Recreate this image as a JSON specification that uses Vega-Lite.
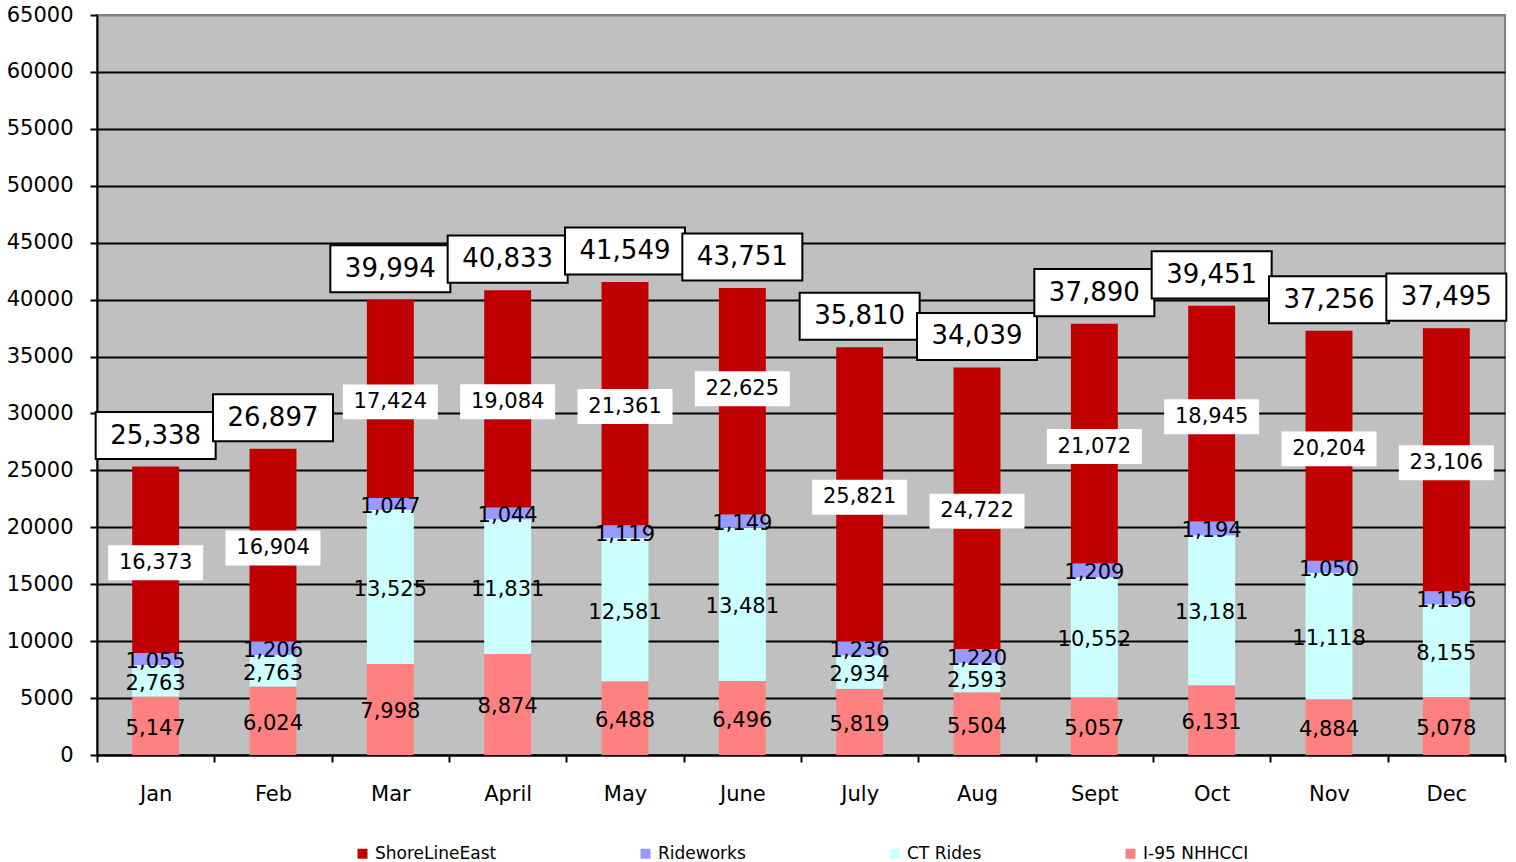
{
  "$schema": "https://vega.github.io/schema/vega-lite/v6.json",
  "width": 1408,
  "height": 740,
  "autosize": "none",
  "padding": {"left": 97, "top": 15, "right": 11, "bottom": 107},
  "background": "white",
  "config": {
    "view": {"fill": "#C0C0C0", "stroke": "#808080", "strokeWidth": 2},
    "font": "DejaVu Sans"
  },
  "data": {
    "values": [
      {"m": "Jan", "s": "I-95 NHHCCI", "v": 5147, "h": 5147},
      {"m": "Jan", "s": "CT Rides", "v": 2763, "h": 2763},
      {"m": "Jan", "s": "Rideworks", "v": 1055, "h": 1055},
      {"m": "Jan", "s": "ShoreLineEast", "v": 16373, "h": 16373},
      {"m": "Feb", "s": "I-95 NHHCCI", "v": 6024, "h": 6024},
      {"m": "Feb", "s": "CT Rides", "v": 2763, "h": 2763},
      {"m": "Feb", "s": "Rideworks", "v": 1206, "h": 1206},
      {"m": "Feb", "s": "ShoreLineEast", "v": 16904, "h": 16904},
      {"m": "Mar", "s": "I-95 NHHCCI", "v": 7998, "h": 7998},
      {"m": "Mar", "s": "CT Rides", "v": 13525, "h": 13525},
      {"m": "Mar", "s": "Rideworks", "v": 1047, "h": 1047},
      {"m": "Mar", "s": "ShoreLineEast", "v": 17424, "h": 17424},
      {"m": "April", "s": "I-95 NHHCCI", "v": 8874, "h": 8874},
      {"m": "April", "s": "CT Rides", "v": 11831, "h": 11831},
      {"m": "April", "s": "Rideworks", "v": 1044, "h": 1044},
      {"m": "April", "s": "ShoreLineEast", "v": 19084, "h": 19084},
      {"m": "May", "s": "I-95 NHHCCI", "v": 6488, "h": 6488},
      {"m": "May", "s": "CT Rides", "v": 12581, "h": 12581},
      {"m": "May", "s": "Rideworks", "v": 1119, "h": 1119},
      {"m": "May", "s": "ShoreLineEast", "v": 21361, "h": 21361},
      {"m": "June", "s": "I-95 NHHCCI", "v": 6496, "h": 6496},
      {"m": "June", "s": "CT Rides", "v": 13481, "h": 13481},
      {"m": "June", "s": "Rideworks", "v": 1149, "h": 1149},
      {"m": "June", "s": "ShoreLineEast", "v": 22625, "h": 19900},
      {"m": "July", "s": "I-95 NHHCCI", "v": 5819, "h": 5819},
      {"m": "July", "s": "CT Rides", "v": 2934, "h": 2934},
      {"m": "July", "s": "Rideworks", "v": 1236, "h": 1236},
      {"m": "July", "s": "ShoreLineEast", "v": 25821, "h": 25821},
      {"m": "Aug", "s": "I-95 NHHCCI", "v": 5504, "h": 5504},
      {"m": "Aug", "s": "CT Rides", "v": 2593, "h": 2593},
      {"m": "Aug", "s": "Rideworks", "v": 1220, "h": 1220},
      {"m": "Aug", "s": "ShoreLineEast", "v": 24722, "h": 24722},
      {"m": "Sept", "s": "I-95 NHHCCI", "v": 5057, "h": 5057},
      {"m": "Sept", "s": "CT Rides", "v": 10552, "h": 10552},
      {"m": "Sept", "s": "Rideworks", "v": 1209, "h": 1209},
      {"m": "Sept", "s": "ShoreLineEast", "v": 21072, "h": 21072},
      {"m": "Oct", "s": "I-95 NHHCCI", "v": 6131, "h": 6131},
      {"m": "Oct", "s": "CT Rides", "v": 13181, "h": 13181},
      {"m": "Oct", "s": "Rideworks", "v": 1194, "h": 1194},
      {"m": "Oct", "s": "ShoreLineEast", "v": 18945, "h": 18945},
      {"m": "Nov", "s": "I-95 NHHCCI", "v": 4884, "h": 4884},
      {"m": "Nov", "s": "CT Rides", "v": 11118, "h": 11118},
      {"m": "Nov", "s": "Rideworks", "v": 1050, "h": 1050},
      {"m": "Nov", "s": "ShoreLineEast", "v": 20204, "h": 20204},
      {"m": "Dec", "s": "I-95 NHHCCI", "v": 5078, "h": 5078},
      {"m": "Dec", "s": "CT Rides", "v": 8155, "h": 8155},
      {"m": "Dec", "s": "Rideworks", "v": 1156, "h": 1156},
      {"m": "Dec", "s": "ShoreLineEast", "v": 23106, "h": 23106}
    ]
  },
  "transform": [
    {"calculate": "indexof(['I-95 NHHCCI','CT Rides','Rideworks','ShoreLineEast'], datum.s)", "as": "ord"},
    {"stack": "v", "groupby": ["m"], "sort": [{"field": "ord", "order": "ascending"}], "as": ["v0", "v1"]},
    {"stack": "h", "groupby": ["m"], "sort": [{"field": "ord", "order": "ascending"}], "as": ["h0", "h1"]},
    {"calculate": "(datum.v0 + datum.v1) / 2", "as": "vmid"}
  ],
  "encoding": {
    "x": {
      "field": "m",
      "type": "nominal",
      "sort": ["Jan", "Feb", "Mar", "April", "May", "June", "July", "Aug", "Sept", "Oct", "Nov", "Dec"],
      "scale": {"paddingInner": 0, "paddingOuter": 0},
      "axis": {
        "title": null,
        "labelAngle": 0,
        "labelFont": "DejaVu Sans",
        "labelFontSize": 21,
        "labelColor": "black",
        "labelPadding": 21,
        "domainColor": "black",
        "domainWidth": 2,
        "tickColor": "black",
        "tickWidth": 2,
        "tickSize": 7,
        "tickBand": "extent",
        "grid": false
      }
    }
  },
  "layer": [
    {
      "mark": {"type": "bar", "width": {"band": 0.4}},
      "encoding": {
        "y": {
          "field": "h0",
          "type": "quantitative",
          "scale": {"domain": [0, 65000], "nice": false, "zero": true},
          "axis": {
            "title": null,
            "values": [0, 5000, 10000, 15000, 20000, 25000, 30000, 35000, 40000, 45000, 50000, 55000, 60000, 65000],
            "format": "d",
            "labelFont": "DejaVu Sans",
            "labelFontSize": 21,
            "labelColor": "black",
            "labelPadding": 17,
            "domainColor": "black",
            "domainWidth": 2,
            "tickColor": "black",
            "tickWidth": 2,
            "tickSize": 7,
            "grid": true,
            "gridColor": {"condition": {"test": "datum.value == 65000", "value": "#808080"}, "value": "black"},
            "gridWidth": 2,
            "gridOpacity": 1
          }
        },
        "y2": {"field": "h1"},
        "color": {
          "field": "s",
          "type": "nominal",
          "scale": {
            "domain": ["ShoreLineEast", "Rideworks", "CT Rides", "I-95 NHHCCI"],
            "range": ["#C00000", "#9999FF", "#CCFFFF", "#FF8080"]
          },
          "legend": {
            "title": null,
            "orient": "none",
            "direction": "horizontal",
            "legendX": 257,
            "legendY": 830,
            "columns": 4,
            "columnPadding": 140,
            "symbolType": "square",
            "symbolSize": 100,
            "symbolStrokeWidth": 0,
            "symbolOpacity": 1,
            "labelOffset": 4,
            "labelFont": "DejaVu Sans",
            "labelFontSize": 17,
            "labelColor": "black",
            "padding": 0
          }
        }
      }
    },
    {
      "transform": [{"filter": "datum.s == 'ShoreLineEast'"}],
      "mark": {"type": "point", "shape": "M-1,-0.368H1V0.368H-1Z", "size": 9025, "filled": true, "fill": "white", "opacity": 1, "strokeWidth": 0, "yOffset": 3},
      "encoding": {"y": {"field": "vmid", "type": "quantitative"}}
    },
    {
      "mark": {"type": "text", "fontSize": 21, "font": "DejaVu Sans", "color": "black", "baseline": "middle", "align": "center", "dy": 3},
      "encoding": {
        "y": {"field": "vmid", "type": "quantitative"},
        "text": {"field": "v", "type": "quantitative", "format": ",d"}
      }
    },
    {
      "transform": [{"aggregate": [{"op": "sum", "field": "v", "as": "total"}, {"op": "sum", "field": "h", "as": "top"}], "groupby": ["m"]}],
      "layer": [
        {
          "mark": {"type": "point", "shape": "M-1,-0.392H1V0.392H-1Z", "size": 14400, "filled": true, "fill": "white", "stroke": "black", "strokeWidth": 2, "opacity": 1, "yOffset": -31},
          "encoding": {"y": {"field": "top", "type": "quantitative"}}
        },
        {
          "mark": {"type": "text", "fontSize": 26, "font": "DejaVu Sans", "color": "black", "baseline": "middle", "align": "center", "dy": -31},
          "encoding": {
            "y": {"field": "top", "type": "quantitative"},
            "text": {"field": "total", "type": "quantitative", "format": ",d"}
          }
        }
      ]
    }
  ]
}
